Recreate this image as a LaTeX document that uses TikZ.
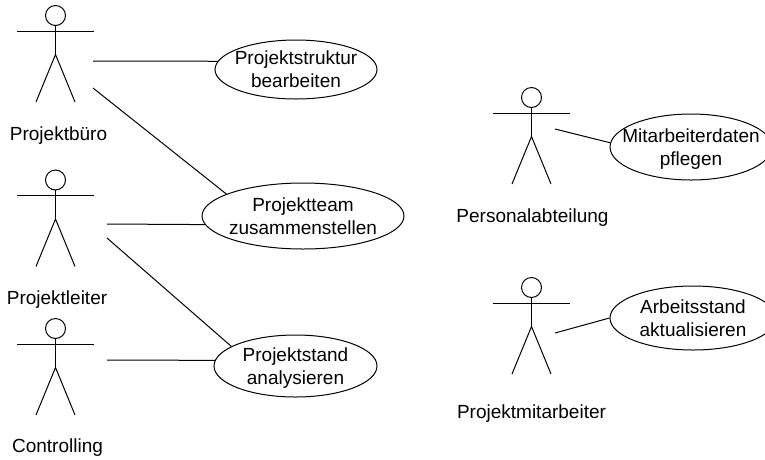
\documentclass[tikz,border=0pt]{standalone}
\usepackage{fontspec}
\setmainfont{Liberation Sans}
\usetikzlibrary{shapes.geometric}
\tikzset{
  actor/.pic={
    \draw (0,0) circle[radius=10pt];
    \draw (-38.5,15.5) -- (38.5,15.5);
    \draw (0,10) -- (0,39);
    \draw (-19.5,86.5) -- (0,39) -- (19.5,86.5);
  },
  usecase/.style={ellipse, draw, inner sep=0pt},
  uctext/.style={align=center, inner sep=0pt, text depth=0pt},
  actorlabel/.style={anchor=base, inner sep=0pt}
}
\begin{document}
\begin{tikzpicture}[x=1pt, y=-1pt, line width=1pt,
  every node/.append style={font=\fontsize{19}{23}\selectfont}]
\path[use as bounding box] (0,0) rectangle (765,459);
\clip (0,0) rectangle (765,459);

% actors
\pic at (55.5,15.5) {actor};
\pic at (55.5,180) {actor};
\pic at (55.5,328.5) {actor};
\pic at (531.5,97.5) {actor};
\pic at (531.5,287.5) {actor};

\node[actorlabel] (l1) at (58.5,140) {Projektbüro};
\node[actorlabel] (l2) at (57,304) {Projektleiter};
\node[actorlabel] (l3) at (57.5,452.7) {Controlling};
\node[actorlabel] (l4) at (532.5,222.7) {Personalabteilung};
\node[actorlabel] (l5) at (531.5,418.5) {Projektmitarbeiter};

% use cases
\node[usecase, minimum width=162pt, minimum height=59pt] (uc1) at (296,69.5) {};
\node[uctext] (t1) at (uc1) {Projektstruktur\\bearbeiten};
\node[usecase, minimum width=202pt, minimum height=66pt] (uc2) at (303,216) {};
\node[uctext] (t2) at (uc2) {Projektteam\\zusammenstellen};
\node[usecase, minimum width=163pt, minimum height=62pt] (uc3) at (295.5,366) {};
\node[uctext] (t3) at (uc3) {Projektstand\\analysieren};
\node[usecase, minimum width=162pt, minimum height=66pt] (uc4) at (691,147) {};
\node[uctext] (t4) at (uc4) {Mitarbeiterdaten\\pflegen};
\node[usecase, minimum width=166pt, minimum height=64pt] (uc5) at (693,318) {};
\node[uctext] (t5) at (uc5) {Arbeitsstand\\aktualisieren};

% connector start points
\coordinate (p1a) at (93,61);
\coordinate (p1b) at (93,88);
\coordinate (p2a) at (107,224);
\coordinate (p2b) at (107,238);
\coordinate (p3a) at (107,360);
\coordinate (p4a) at (555,129);
\coordinate (p5a) at (555,333);

\draw (p1a) -- (uc1.174);
\draw (p1b) -- (uc2.164);
\draw (p2a) -- (uc2.185);
\draw (p2b) -- (uc3.163);
\draw (p3a) -- (uc3.176);
\draw (p4a) -- (uc4.177);
\draw (p5a) -- (uc5.180);
\end{tikzpicture}
\end{document}
